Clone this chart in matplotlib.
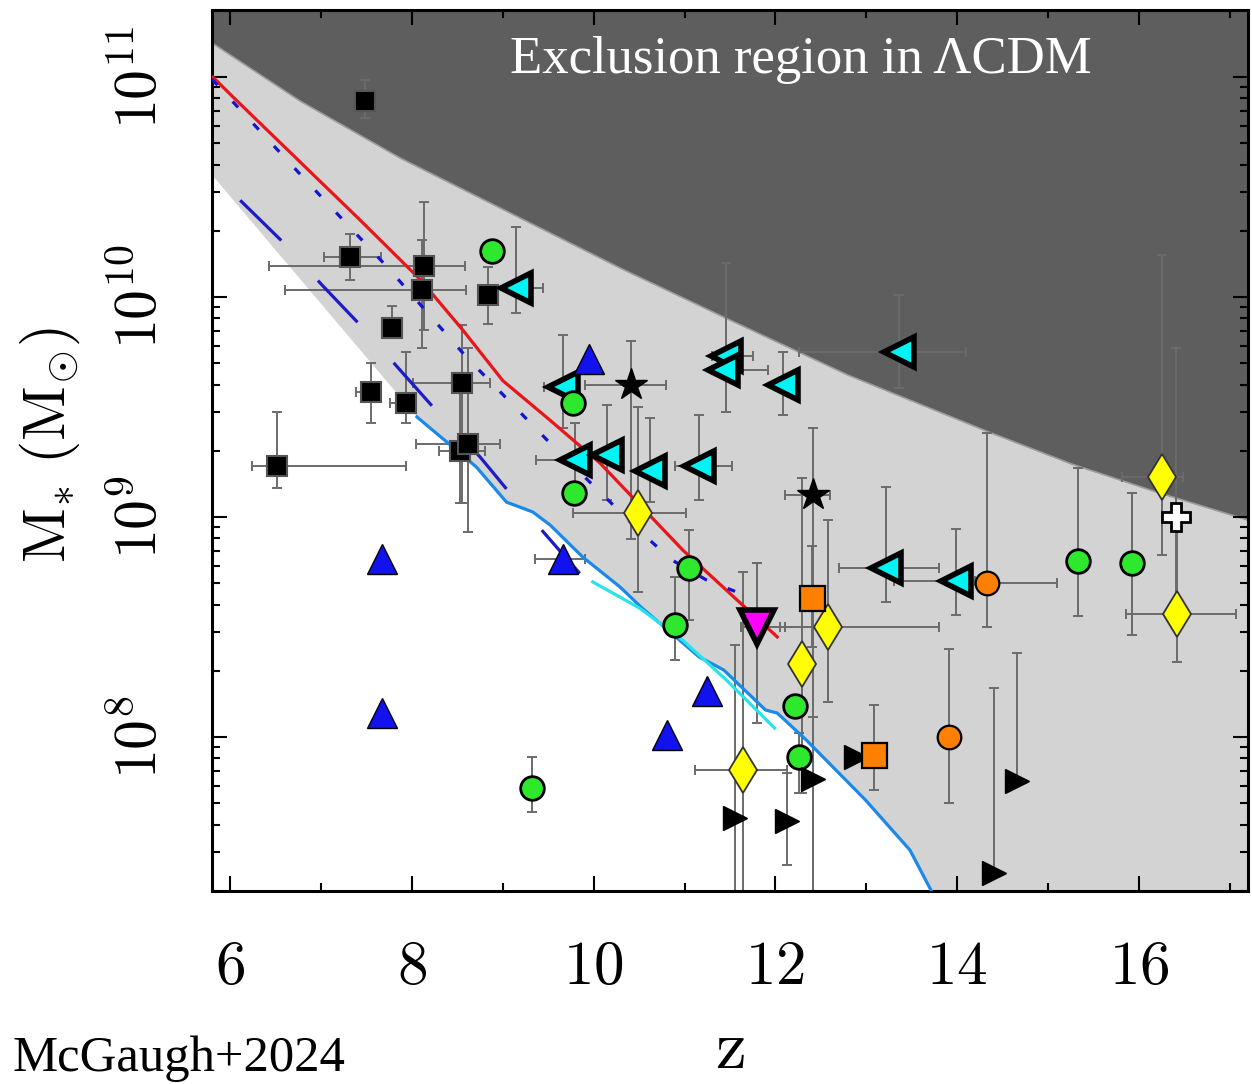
import numpy as np
import matplotlib
matplotlib.use("Agg")
import matplotlib.pyplot as plt
from matplotlib.ticker import MultipleLocator, LogLocator, NullFormatter

plt.rcParams['mathtext.fontset'] = 'cm'

nan = np.nan

# --- shaded regions (log10 M*) ---
dark_z = [5.8, 6.77, 7.87, 8.97, 10.29, 11.43, 12.80, 14.35, 15.26, 16.19, 17.2]
dark_logm = [11.155, 10.891, 10.632, 10.405, 10.132, 9.909, 9.645, 9.386, 9.241, 9.114, 8.986]

gray_left_z = [5.8]
gray_left_logm = [10.555]

# --- model curves ---
red_z = [5.81, 6.03, 7.43, 8.09, 8.56, 9.00, 9.52, 10.07, 10.98, 12.02]
red_logm = [11.0, 10.91, 10.35, 10.08, 9.85, 9.62, 9.44, 9.245, 8.85, 8.455]

dot_z = [5.8, 6.80, 7.73, 8.60, 9.52, 10.53, 10.86, 11.24, 11.66]
dot_logm = [10.99, 10.545, 10.136, 9.727, 9.336, 8.927, 8.805, 8.714, 8.645]

dash_z = [6.11, 6.58, 7.01, 7.46, 7.87, 8.31, 8.75, 9.16, 9.59, 10.01]
dash_logm = [10.44, 10.25, 10.055, 9.86, 9.668, 9.464, 9.273, 9.068, 8.864, 8.668]

sky_z = [8.055, 8.45, 8.71, 9.04, 9.33, 9.52, 9.88, 10.29, 10.52, 11.16, 11.43,
         11.89, 12.02, 12.34, 12.99, 13.48, 13.71, 13.80]
sky_logm = [9.455, 9.318, 9.227, 9.068, 9.023, 8.964, 8.818, 8.682, 8.591, 8.364,
            8.305, 8.123, 8.109, 7.986, 7.714, 7.486, 7.305, 7.2]

cyanline_z = [9.99, 10.505, 10.98, 11.46, 11.99]
cyanline_logm = [8.705, 8.586, 8.44, 8.259, 8.041]

# --- data points: z, log M, z range, log M range (nan = no bar) ---
sq_z = [7.48, 7.32, 8.13, 8.11, 8.84, 7.78, 8.55, 7.55, 7.93, 6.52, 8.53, 8.62]
sq_logm = [10.89, 10.18, 10.14, 10.03, 10.01, 9.86, 9.61, 9.57, 9.52, 9.23, 9.30, 9.33]
sq_zlo = [nan, 7.03, 6.43, 6.60, nan, nan, 8.01, 7.39, 7.76, 6.24, 8.30, 8.05]
sq_zhi = [nan, 7.66, 8.58, 8.60, nan, nan, 8.86, 7.64, 8.04, 7.93, 8.80, 8.97]
sq_mlo = [10.814, 10.077, 9.85, 9.768, 9.877, 9.814, 9.064, 9.427, 9.427, 9.132, 9.064, 8.932]
sq_mhi = [10.986, 10.286, 10.432, 10.259, 10.136, 9.959, 9.873, 9.70, 9.75, 9.477, 9.61, 9.768]

star_z = [10.41, 12.41]
star_logm = [9.60, 9.10]
star_zlo = [9.90, 12.10]
star_zhi = [10.80, 12.60]
star_mlo = [8.90, 7.0]
star_mhi = [9.80, 9.405]

grn_z = [8.88, 9.77, 9.78, 11.05, 10.90, 9.32, 12.21, 12.26, 15.33, 15.92]
grn_logm = [10.21, 9.52, 9.11, 8.77, 8.51, 7.77, 8.14, 7.91, 8.80, 8.79]
grn_mlo = [nan, nan, nan, 8.532, 8.35, 7.66, nan, 7.745, 8.55, 8.464]
grn_mhi = [nan, nan, nan, 8.94, 8.727, 7.91, nan, 8.02, 9.223, 9.109]

cy_z = [9.15, 9.66, 11.46, 11.42, 12.08, 13.36, 9.79, 10.15, 10.62, 11.16, 13.22, 13.99]
cy_logm = [10.04, 9.59, 9.73, 9.67, 9.60, 9.75, 9.26, 9.28, 9.21, 9.23, 8.77, 8.71]
cy_zlo = [nan, 9.45, 11.30, 11.30, nan, 12.26, 9.37, nan, nan, 10.89, 12.70, 13.30]
cy_zhi = [9.44, nan, 11.75, 11.92, nan, 14.10, 9.95, nan, nan, 11.52, 13.80, 14.20]
cy_mlo = [9.927, 9.405, 9.477, nan, 9.464, 9.586, 9.10, 9.077, 9.068, 9.077, 8.614, 8.555]
cy_mhi = [10.318, 9.827, 10.155, nan, 9.75, 10.01, 9.427, 9.51, 9.45, 9.464, 9.136, 8.945]

btri_z = [9.95, 7.67, 7.67, 9.66, 11.25, 10.81]
btri_logm = [9.72, 8.81, 8.11, 8.81, 8.21, 8.01]
btri_zlo = [nan, nan, nan, 9.35, nan, nan]
btri_zhi = [nan, nan, nan, 9.90, nan, nan]

dia_z = [10.49, 12.58, 12.29, 11.64, 16.25, 16.42]
dia_logm = [9.02, 8.50, 8.33, 7.85, 9.18, 8.56]
dia_zlo = [9.77, 12.05, nan, 11.11, 15.81, 15.86]
dia_zhi = [11.02, 13.80, nan, 12.13, 16.49, 17.07]
dia_mlo = [8.659, 8.16, 7.745, 7.0, 8.827, 8.34]
dia_mhi = [9.50, 8.986, 9.177, 8.75, 10.19, 9.0]

oc_z = [14.33, 13.91]
oc_logm = [8.70, 8.00]
oc_zlo = [nan, nan]
oc_zhi = [15.10, nan]
oc_mlo = [8.50, 7.70]
oc_mhi = [9.382, 8.40]

osq_z = [12.40, 13.09]
osq_logm = [8.63, 7.92]
osq_mlo = [8.41, 7.76]
osq_mhi = [8.87, 8.145]

mag_z = [11.80]
mag_logm = [8.50]
mag_zlo = [11.62]
mag_zhi = [12.11]
mag_mlo = [8.064]
mag_mhi = [8.79]

rt_z = [12.41, 11.55, 12.13, 14.66, 14.41, 12.89]
rt_logm = [7.81, 7.63, 7.62, 7.80, 7.38, 7.91]
rt_mlo = [7.0, 7.0, 7.418, nan, nan, nan]
rt_mhi = [8.09, 8.42, 7.836, 8.38, 8.223, nan]

plus_z = [16.41]
plus_logm = [9.0]
plus_mlo = [8.56]
plus_mhi = [9.768]


def one_sided(c, lo, hi):
    c, lo, hi = (np.array(a, float) for a in (c, lo, hi))
    lo = np.where(np.isnan(lo) & ~np.isnan(hi), c, lo)
    hi = np.where(np.isnan(hi) & ~np.isnan(lo), c, hi)
    return c, lo, hi


def xbars(z, lo, hi):
    z, lo, hi = one_sided(z, lo, hi)
    return [z - lo, hi - z]


def ybars(lm, lo, hi):
    lm, lo, hi = one_sided(lm, lo, hi)
    m = 10 ** lm
    return [m - 10 ** lo, 10 ** hi - m]


fig = plt.figure(figsize=(12.52, 10.84), dpi=100)
ax = fig.add_axes([212 / 1252, (1084 - 891) / 1084, 1036 / 1252, 881 / 1084])
ax.set_yscale('log')
ax.set_xlim(5.8, 17.2)
ax.set_ylim(10 ** 7.3, 10 ** 11.305)

# shaded regions
gz = np.array(gray_left_z + sky_z + [17.3])
gm = np.array(gray_left_logm + sky_logm + [7.0])
ax.fill_between(gz, 10 ** gm, 1e12, color='#d3d3d3', lw=0, zorder=0)
ax.fill_between(dark_z, 10 ** np.array(dark_logm), 1e12, color='#5e5e5e', lw=0, zorder=0.5)
ax.plot(dark_z, 10 ** np.array(dark_logm), color='#9c9c9c', lw=1.2, zorder=0.6)

ebar = dict(fmt='none', ecolor='#6b6b6b', elinewidth=1.4, capsize=3.8, capthick=1.4, zorder=2)

ax.errorbar(sq_z, 10 ** np.array(sq_logm), xerr=xbars(sq_z, sq_zlo, sq_zhi),
            yerr=ybars(sq_logm, sq_mlo, sq_mhi), **ebar)
ax.errorbar(star_z, 10 ** np.array(star_logm), xerr=xbars(star_z, star_zlo, star_zhi),
            yerr=ybars(star_logm, star_mlo, star_mhi), **ebar)
ax.errorbar(grn_z, 10 ** np.array(grn_logm), yerr=ybars(grn_logm, grn_mlo, grn_mhi), **ebar)
ax.errorbar(cy_z, 10 ** np.array(cy_logm), xerr=xbars(cy_z, cy_zlo, cy_zhi),
            yerr=ybars(cy_logm, cy_mlo, cy_mhi), **ebar)
ax.errorbar(btri_z, 10 ** np.array(btri_logm), xerr=xbars(btri_z, btri_zlo, btri_zhi), **ebar)
ax.errorbar(dia_z, 10 ** np.array(dia_logm), xerr=xbars(dia_z, dia_zlo, dia_zhi),
            yerr=ybars(dia_logm, dia_mlo, dia_mhi), **ebar)
ax.errorbar(oc_z, 10 ** np.array(oc_logm), xerr=xbars(oc_z, oc_zlo, oc_zhi),
            yerr=ybars(oc_logm, oc_mlo, oc_mhi), **ebar)
ax.errorbar(osq_z, 10 ** np.array(osq_logm), yerr=ybars(osq_logm, osq_mlo, osq_mhi), **ebar)
ax.errorbar(mag_z, 10 ** np.array(mag_logm), xerr=xbars(mag_z, mag_zlo, mag_zhi),
            yerr=ybars(mag_logm, mag_mlo, mag_mhi), **ebar)
ax.errorbar(rt_z, 10 ** np.array(rt_logm), yerr=ybars(rt_logm, rt_mlo, rt_mhi), **ebar)
ax.errorbar(plus_z, 10 ** np.array(plus_logm), yerr=ybars(plus_logm, plus_mlo, plus_mhi), **ebar)

# model curves
ax.plot(red_z, 10 ** np.array(red_logm), color='#e8151b', lw=2.3, zorder=3)
ax.plot(dot_z, 10 ** np.array(dot_logm), color='#1414d4', lw=2.3, dashes=(2.5, 7), zorder=3)
ax.plot(dash_z, 10 ** np.array(dash_logm), color='#1c1cc8', lw=2.3, dashes=(18, 17), zorder=3)
ax.plot(sky_z, 10 ** np.array(sky_logm), color='#1a8ae6', lw=2.3, zorder=3)
ax.plot(cyanline_z, 10 ** np.array(cyanline_logm), color='#28e4ea', lw=2.3, zorder=3)

# markers (order sets overlap)
mk = dict(ls='none', zorder=5)
ax.plot(sq_z, 10 ** np.array(sq_logm), 's', ms=14, mfc='black', mec='#555555', mew=1.5, **mk)
ax.plot(cy_z, 10 ** np.array(cy_logm), '<', ms=22, mfc='#00f4f4', mec='black', mew=4, **mk)
ax.plot(grn_z, 10 ** np.array(grn_logm), 'o', ms=17, mfc='#2ee82e', mec='black', mew=2, **mk)
ax.plot(btri_z, 10 ** np.array(btri_logm), '^', ms=21, mfc='#1212ee', mec='black', mew=1, **mk)
ax.plot(rt_z, 10 ** np.array(rt_logm), '>', ms=17, mfc='black', mec='black', mew=1, **mk)
ax.plot(dia_z, 10 ** np.array(dia_logm), 'd', ms=23, mfc='#ffff00', mec='#333333', mew=1.3, **mk)
ax.plot(oc_z, 10 ** np.array(oc_logm), 'o', ms=17, mfc='#ff8000', mec='black', mew=1.6, **mk)
ax.plot(osq_z, 10 ** np.array(osq_logm), 's', ms=18, mfc='#ff8000', mec='black', mew=1.6, **mk)
ax.plot(mag_z, 10 ** np.array(mag_logm), 'v', ms=24, mfc='#ff00ff', mec='black', mew=4, **mk)
ax.plot(star_z, 10 ** np.array(star_logm), '*', ms=24, mfc='black', mec='black', mew=1, **mk)
ax.plot(plus_z, 10 ** np.array(plus_logm), 'P', ms=20, mfc='white', mec='black', mew=2, **mk)

ax.text(0.568, 0.943, r'Exclusion region in ΛCDM', transform=ax.transAxes,
        ha='center', va='center', color='white', fontsize=38, family='Liberation Serif')

# axes styling
for s in ax.spines.values():
    s.set_linewidth(2.2)
ax.xaxis.set_major_locator(MultipleLocator(2))
ax.xaxis.set_minor_locator(MultipleLocator(1))
ax.yaxis.set_major_locator(LogLocator(base=10, numticks=10))
ax.yaxis.set_minor_locator(LogLocator(base=10, subs=np.arange(2, 10), numticks=20))
ax.yaxis.set_minor_formatter(NullFormatter())
ax.tick_params(which='both', direction='in', top=True, right=True, width=1.5)
ax.tick_params(which='major', length=11, pad=34)
ax.tick_params(which='minor', length=6)
ax.tick_params(axis='x', labelsize=44)

ax.set_xticks([6, 8, 10, 12, 14, 16])
ax.set_xticklabels(['$6$', '$8$', '$10$', '$12$', '$14$', '$16$'])
yt = [1e8, 1e9, 1e10, 1e11]
ax.set_yticks(yt)
ax.set_yticklabels([r'$10^{8}$', r'$10^{9}$', r'$10^{10}$', r'$10^{11}$'],
                   rotation=90, va='center', fontsize=43)
ax.tick_params(axis='y', pad=30)

fig.text(50 / 1252, 1 - 445 / 1084, r'$\mathrm{M}_{*}\ (\mathrm{M}_{\odot})$',
         rotation=90, ha='center', va='center', fontsize=43)
fig.text(730 / 1252, 1 - 1082 / 1084, r'$\mathrm{z}$', ha='center', va='bottom', fontsize=50)
fig.text(12 / 1252, 1 - 1082 / 1084, 'McGaugh+2024', ha='left', va='bottom',
         fontsize=36.5, family='Liberation Serif')

fig.savefig('out.png', dpi=100)
